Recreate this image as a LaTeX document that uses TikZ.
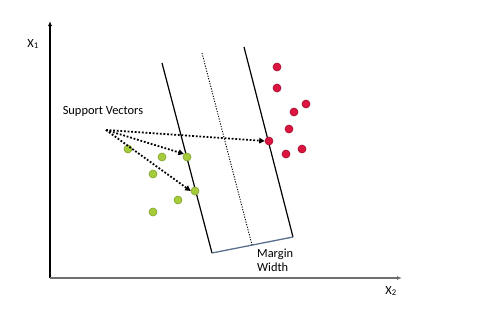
\documentclass[tikz,border=0pt]{standalone}
\usepackage{fontspec}
\setmainfont{Carlito}
\usetikzlibrary{arrows.meta}
\definecolor{redpt}{HTML}{DC1540}
\definecolor{redrim}{HTML}{A00C2C}
\definecolor{greenpt}{HTML}{A6CC3C}
\definecolor{greenrim}{HTML}{7FA22A}
\definecolor{axisgrey}{HTML}{6E6E6E}
\definecolor{edgeblue}{HTML}{5A6F8C}
\tikzset{
  redp/.style={circle,fill=redpt,draw=redrim,line width=0.6pt,inner sep=0pt,minimum size=8pt},
  greenp/.style={circle,fill=greenpt,draw=greenrim,line width=0.6pt,inner sep=0pt,minimum size=8pt},
  lbl/.style={font=\fontsize{12.4}{14}\selectfont,text=black,inner sep=0pt},
  svarrow/.style={line width=1.8pt,dash pattern=on 1.8pt off 1.8pt,-{Triangle[length=5.5pt,width=5.5pt]}},
  hyper/.style={line width=1.2pt,black},
}
\begin{document}
\begin{tikzpicture}[x=1pt,y=-1pt]
\useasboundingbox (0,0) rectangle (479,309);
% axes
\coordinate (O) at (50,278);
\coordinate (Ytop) at (50,21);
\coordinate (Xend) at (402,278);
\draw[line width=1.5pt,black,-{Latex[length=5pt,width=4pt]}] (O) -- (Ytop);
\draw[line width=1.7pt,axisgrey,-{Latex[length=5pt,width=4pt]}] (O) -- (Xend);
\node[lbl] (x1) at (33,44) {X\textsubscript{1}};
\node[lbl] (x2) at (391,291) {X\textsubscript{2}};
% margin band
\coordinate (La) at (162,63);
\coordinate (Lb) at (212,253);
\coordinate (Ra) at (244,47);
\coordinate (Rb) at (293,237);
\coordinate (Ma) at (202,53);
\coordinate (Mb) at (252,245);
\draw[hyper] (La) -- (Lb);
\draw[hyper] (Ra) -- (Rb);
\draw[line width=1.3pt,edgeblue] (Lb) -- (Rb);
\draw[line width=0.9pt,dash pattern=on 1.2pt off 1.4pt] (Ma) -- (Mb);
\node[lbl,align=left,anchor=north west] (mw) at (257,249) {Margin\\Width};
% green points
\node[greenp] (g1) at (128,149) {};
\node[greenp] (g2) at (162,157) {};
\node[greenp] (g3) at (187,157) {};
\node[greenp] (g4) at (153,174) {};
\node[greenp] (g5) at (195,191) {};
\node[greenp] (g6) at (178,200) {};
\node[greenp] (g7) at (153,212) {};
% red points
\node[redp] (r1) at (277,67) {};
\node[redp] (r2) at (277,88) {};
\node[redp] (r3) at (306,104) {};
\node[redp] (r4) at (294,112) {};
\node[redp] (r5) at (289,129) {};
\node[redp] (r6) at (269,141) {};
\node[redp] (r7) at (286,154) {};
\node[redp] (r8) at (302,149) {};
% support vectors
\node[lbl] (sv) at (103,111) {Support Vectors};
\coordinate (s) at (106,130);
\draw[svarrow] (s) -- (r6.west);
\draw[svarrow] (s) -- (g3.north west);
\draw[svarrow] (s) -- (g5.west);
\end{tikzpicture}
\end{document}
